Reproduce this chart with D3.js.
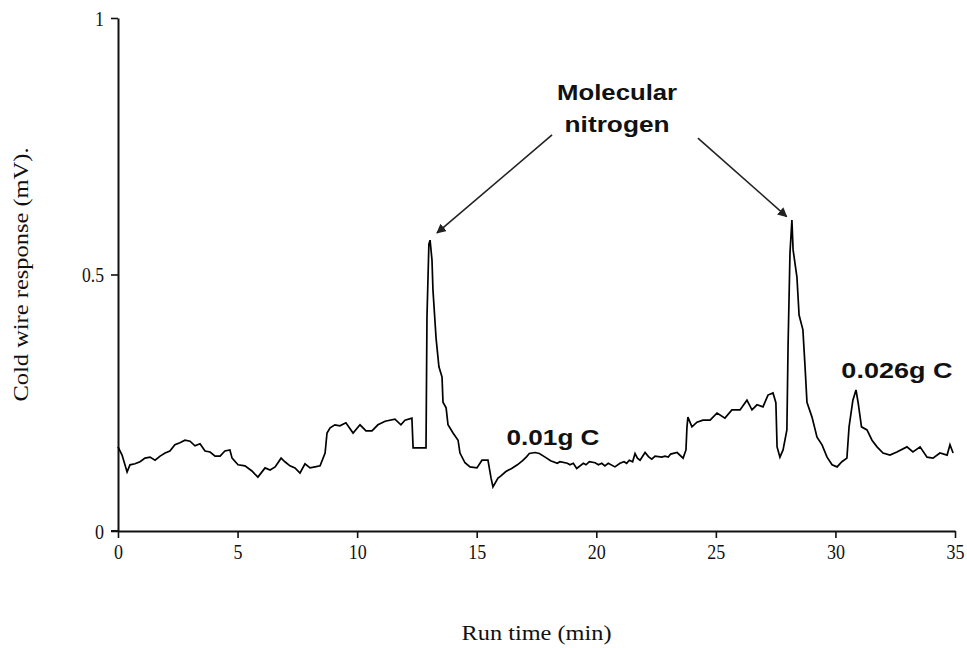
<!DOCTYPE html>
<html>
<head>
<meta charset="utf-8">
<script src="https://cdn.jsdelivr.net/npm/d3@7"></script>
<style>
  html, body { margin: 0; padding: 0; background: #fff; }
  svg { display: block; }
</style>
</head>
<body>
<svg id="chart" width="967" height="648"></svg>
<script>
// ---- data ----
const timeMin = [0.00,0.17,0.38,0.50,0.71,0.92,1.13,1.34,1.55,1.76,1.97,2.17,2.38,2.59,2.80,3.01,3.22,3.43,3.64,3.85,4.06,4.27,4.47,4.68,4.77,5.02,5.31,5.60,5.85,6.15,6.36,6.57,6.82,6.98,7.19,7.40,7.61,7.82,8.03,8.24,8.45,8.66,8.74,8.87,9.07,9.28,9.53,9.83,10.12,10.37,10.62,10.87,11.17,11.58,11.83,12.00,12.29,12.34,12.88,12.92,13.00,13.05,13.13,13.17,13.30,13.42,13.55,13.59,13.72,13.80,14.01,14.22,14.30,14.51,14.72,15.01,15.22,15.47,15.60,15.68,15.89,16.00,16.22,16.46,16.70,16.92,17.09,17.20,17.44,17.62,17.86,18.09,18.37,18.48,18.79,18.90,19.04,19.18,19.46,19.57,19.71,19.95,20.09,20.23,20.36,20.50,20.78,20.99,21.16,21.27,21.38,21.52,21.62,21.72,21.83,22.04,22.18,22.32,22.46,22.74,22.87,23.01,23.11,23.38,23.63,23.75,23.79,23.83,24.00,24.21,24.46,24.76,25.05,25.38,25.67,26.01,26.30,26.51,26.72,26.97,27.18,27.39,27.51,27.56,27.68,27.81,27.97,28.02,28.10,28.18,28.23,28.39,28.48,28.64,28.73,28.81,29.02,29.23,29.44,29.65,29.86,30.07,30.27,30.48,30.57,30.73,30.86,30.95,31.09,31.32,31.53,31.74,31.99,32.28,32.57,32.99,33.24,33.54,33.83,34.08,34.37,34.67,34.79,34.92];
const responseMV = [0.164,0.148,0.115,0.129,0.131,0.135,0.142,0.144,0.138,0.146,0.152,0.156,0.168,0.172,0.177,0.175,0.166,0.170,0.156,0.154,0.146,0.146,0.156,0.158,0.142,0.129,0.127,0.117,0.105,0.123,0.119,0.125,0.142,0.135,0.127,0.123,0.113,0.131,0.123,0.125,0.127,0.152,0.191,0.201,0.207,0.205,0.211,0.191,0.207,0.195,0.195,0.207,0.214,0.218,0.207,0.216,0.220,0.162,0.162,0.417,0.559,0.567,0.528,0.470,0.376,0.320,0.300,0.251,0.240,0.207,0.191,0.177,0.152,0.133,0.125,0.123,0.138,0.138,0.103,0.086,0.103,0.107,0.116,0.122,0.129,0.137,0.145,0.151,0.153,0.151,0.144,0.137,0.132,0.135,0.132,0.129,0.132,0.122,0.132,0.129,0.135,0.133,0.129,0.132,0.127,0.132,0.125,0.132,0.135,0.132,0.138,0.135,0.151,0.142,0.138,0.153,0.145,0.140,0.146,0.144,0.146,0.144,0.150,0.153,0.142,0.158,0.201,0.222,0.203,0.212,0.216,0.216,0.230,0.220,0.236,0.236,0.255,0.236,0.246,0.242,0.265,0.269,0.250,0.164,0.144,0.158,0.197,0.363,0.542,0.606,0.548,0.495,0.421,0.392,0.320,0.251,0.222,0.183,0.168,0.144,0.129,0.125,0.135,0.142,0.203,0.255,0.275,0.250,0.203,0.197,0.177,0.164,0.152,0.148,0.154,0.164,0.154,0.164,0.144,0.142,0.152,0.148,0.168,0.152];
const xTicks = [0,5,10,15,20,25,30,35];
const yTicks = [0,0.5,1];
const yTickLabels = ["0","0.5","1"];
const xTitle = "Run time (min)";
const yTitle = "Cold wire response (mV).";
const peakLabelLines = ["Molecular","nitrogen"];
const sampleLabels = ["0.01g C","0.026g C"];

// ---- layout ----
const svg = d3.select("#chart");
const mLeft = 118, mRight = 955, mTop = 18, mBottom = 531;
const x = d3.scaleLinear().domain([0,35]).range([mLeft,mRight]);
const y = d3.scaleLinear().domain([0,1]).range([mBottom,mTop]);

const serif = "'Liberation Serif','Times New Roman',serif";
const sans = "'Liberation Sans',Arial,sans-serif";

// x axis
const xAxis = svg.append("g")
  .attr("transform",`translate(0,${mBottom})`)
  .call(d3.axisBottom(x).tickValues(xTicks).tickSize(7).tickPadding(5).tickSizeOuter(0));
// y axis
const yAxis = svg.append("g")
  .attr("transform",`translate(${mLeft},0)`)
  .call(d3.axisLeft(y).tickValues(yTicks).tickSize(7).tickPadding(7).tickSizeOuter(0)
        .tickFormat((d,i)=>yTickLabels[i]));

[xAxis,yAxis].forEach(g=>{
  g.select(".domain").attr("stroke","#111").attr("stroke-width",2);
  g.selectAll(".tick line").attr("stroke","#111").attr("stroke-width",1.6);
  g.selectAll(".tick text").attr("font-family",serif).attr("font-size",22).attr("fill","#111")
    .attr("textLength",function(){return this.textContent.replace(".","").length*9 + (this.textContent.includes(".")?4:0);})
    .attr("lengthAdjust","spacingAndGlyphs");
});
svg.append("line").attr("x1",mLeft-7).attr("x2",mLeft).attr("y1",mBottom).attr("y2",mBottom)
  .attr("stroke","#111").attr("stroke-width",2);

// axis titles
svg.append("text").attr("x",(mLeft+mRight)/2).attr("y",640)
  .attr("text-anchor","middle").attr("font-family",serif).attr("font-size",22).attr("fill","#111")
  .attr("textLength",150).attr("lengthAdjust","spacingAndGlyphs").text(xTitle);
svg.append("text").attr("transform",`translate(28,${y(0.5)}) rotate(-90)`)
  .attr("text-anchor","middle").attr("font-family",serif).attr("font-size",22).attr("fill","#111")
  .attr("textLength",254).attr("lengthAdjust","spacingAndGlyphs").text(yTitle);

// trace
const pts = timeMin.map((t,i)=>[t,responseMV[i]]);
svg.append("path").datum(pts)
  .attr("fill","none").attr("stroke","#000").attr("stroke-width",1.7)
  .attr("stroke-linejoin","miter")
  .attr("d",d3.line().x(d=>x(d[0])).y(d=>y(d[1])).curve(d3.curveLinear));

// arrows
const defs = svg.append("defs");
defs.append("marker").attr("id","ah").attr("viewBox","0 0 10 10").attr("refX",9).attr("refY",5)
  .attr("markerWidth",6).attr("markerHeight",6).attr("orient","auto")
  .append("path").attr("d","M0,0 L10,5 L0,10 z").attr("fill","#222");
const arrowsFrom = [[18.15,0.772],[24.25,0.766]];
const arrowsTo = [[13.34,0.581],[27.96,0.613]];
arrowsFrom.forEach((f,i)=>{
  svg.append("line").attr("x1",x(f[0])).attr("y1",y(f[1]))
    .attr("x2",x(arrowsTo[i][0])).attr("y2",y(arrowsTo[i][1]))
    .attr("stroke","#222").attr("stroke-width",1.6).attr("marker-end","url(#ah)");
});

// annotations
const annW = [120,105];
peakLabelLines.forEach((t,i)=>{
  svg.append("text").attr("x",x(20.87)).attr("y",y(i===0?0.840:0.778))
    .attr("text-anchor","middle").attr("font-family",sans).attr("font-weight","bold")
    .attr("font-size",22).attr("fill","#111")
    .attr("textLength",annW[i]).attr("lengthAdjust","spacingAndGlyphs").text(t);
});
const sampPos = [[18.19,0.168],[32.57,0.298]];
const sampW = [93,111];
sampleLabels.forEach((t,i)=>{
  svg.append("text").attr("x",x(sampPos[i][0])).attr("y",y(sampPos[i][1]))
    .attr("text-anchor","middle").attr("font-family",sans).attr("font-weight","bold")
    .attr("font-size",22).attr("fill","#111")
    .attr("textLength",sampW[i]).attr("lengthAdjust","spacingAndGlyphs").text(t);
});
</script>
</body>
</html>
